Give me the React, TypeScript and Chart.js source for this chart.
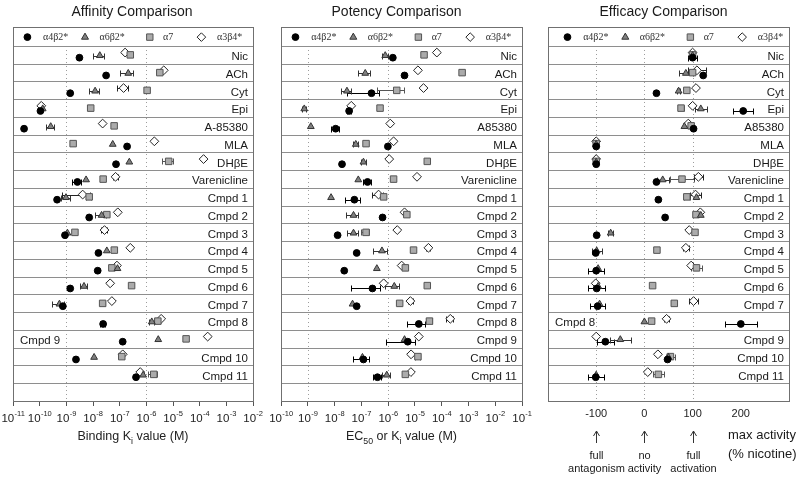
import React, { useEffect, useRef } from 'react';
import { Chart, registerables } from 'chart.js';

Chart.register(...registerables);

const SANS = '"Liberation Sans", Arial, Helvetica, sans-serif';
const SERIF = '"Liberation Serif", "Times New Roman", serif';

// ---------------- data ----------------
const seriesNames = ['α4β2*', 'α6β2*', 'α7', 'α3β4*'];

const affinityCategories = ['Nic', 'ACh', 'Cyt', 'Epi', 'A-85380', 'MLA', 'DHβE', 'Varenicline',
  'Cmpd 1', 'Cmpd 2', 'Cmpd 3', 'Cmpd 4', 'Cmpd 5', 'Cmpd 6', 'Cmpd 7', 'Cmpd 8', 'Cmpd 9', 'Cmpd 10', 'Cmpd 11'];
const potencyCategories = ['Nic', 'ACh', 'Cyt', 'Epi', 'A85380', 'MLA', 'DHβE', 'Varenicline',
  'Cmpd 1', 'Cmpd 2', 'Cmpd 3', 'Cmpd 4', 'Cmpd 5', 'Cmpd 6', 'Cmpd 7', 'Cmpd 8', 'Cmpd 9', 'Cmpd 10', 'Cmpd 11'];
const efficacyCategories = potencyCategories;

// Binding Ki (M) and SEM (M)
const affA4b2 = [3.1e-9, 3.1e-8, 1.4e-9, 1.07e-10, 2.6e-11, 1.9e-7, 7.3e-8, 2.6e-9, 4.5e-10, 7.2e-9, 8.9e-10, 1.6e-8, 1.5e-8, 1.4e-9, 7.4e-10, 2.4e-8, 1.3e-7, 2.3e-9, 4.1e-7];
const affA4b2Sem = [0, 0, 0, 0, 0, 0, 0, 1e-9, 0, 0, 0, 0, 0, 0, 0, 5e-9, 0, 0, 0];
const affA6b2 = [1.8e-8, 2.1e-7, 1.2e-8, 1.3e-10, 2.6e-10, 5.5e-8, 2.3e-7, 5.5e-9, 9.7e-10, 2.1e-8, 1.1e-9, 3.3e-8, 8.3e-8, 4.6e-9, 5.5e-10, 1.6e-6, 2.8e-6, 1.1e-8, 7.6e-7];
const affA6b2Sem = [8e-9, 1.1e-7, 5e-9, 0, 9e-11, 0, 0, 0, 3.5e-10, 9e-9, 0, 0, 0, 1.4e-9, 2.5e-10, 3e-7, 0, 0, 0];
const affA7 = [2.5e-7, 3.2e-6, 1.07e-6, 8.2e-9, 6.2e-8, 1.8e-9, 6.9e-6, 2.4e-8, 7.2e-9, 3.3e-8, 2.1e-9, 6.3e-8, 5.1e-8, 2.8e-7, 2.3e-8, 2.7e-6, 3.1e-5, 1.2e-7, 1.9e-6];
const affA7Sem = [0, 0, 0, 0, 0, 0, 3e-6, 0, 1.5e-9, 0, 0, 0, 0, 0, 5e-9, 0, 0, 0, 7e-7];
const affA3b4 = [1.6e-7, 4.5e-6, 1.4e-7, 1.15e-10, 2.3e-8, 2e-6, 1.4e-4, 7e-8, 4.1e-9, 8.5e-8, 2.7e-8, 2.5e-7, 7.9e-8, 4.4e-8, 5.1e-8, 3.6e-6, 2e-4, 1.3e-7, 5.9e-7];
const affA3b4Sem = [0, 0, 6e-8, 0, 0, 0, 0, 1.5e-8, 3.4e-9, 0, 7e-9, 0, 0, 0, 0, 0, 0, 0, 0];

// EC50 or Ki (M) and SEM (M)
const potA4b2 = [1.5e-6, 4.1e-6, 2.4e-7, 3.5e-8, 1.1e-8, 9.8e-7, 1.9e-8, 1.7e-7, 5.5e-8, 6.2e-7, 1.3e-8, 6.7e-8, 2.3e-8, 2.6e-7, 6.7e-8, 1.4e-5, 5.4e-6, 1.2e-7, 4e-7];
const potA4b2Sem = [0, 0, 2.1e-7, 7e-9, 3.5e-9, 0, 0, 5e-8, 3.1e-8, 0, 0, 0, 0, 2.2e-7, 0, 9e-6, 4.6e-6, 7.3e-8, 1.3e-7];
const potA6b2 = [7.8e-7, 1.4e-7, 2.9e-8, 7.4e-10, 1.3e-9, 6.2e-8, 1.2e-7, 7.7e-8, 7.4e-9, 5.1e-8, 5.1e-8, 5.9e-7, 3.8e-7, 1.7e-6, 4.7e-8, null, 4.1e-6, 1.1e-7, 8.9e-7];
const potA6b2Sem = [2e-7, 6.5e-8, 1.2e-8, 1.5e-10, 0, 1.2e-8, 2.5e-8, 0, 0, 2.4e-8, 2.2e-8, 3.2e-7, 0, 9.4e-7, 0, 0, 0, 0, 3e-7];
const potA7 = [2.2e-5, 5.8e-4, 2.1e-6, 5e-7, null, 1.5e-7, 2.9e-5, 1.6e-6, 6.8e-7, 5e-6, 1.5e-7, 8.9e-6, 4.4e-6, 2.9e-5, 2.7e-6, 3.5e-5, null, 1.3e-5, 4.4e-6];
const potA7Sem = [0, 0, 1.7e-6, 0, 0, 0, 0, 0, 0, 0, 5e-8, 0, 0, 0, 0, 8e-6, 0, 3e-6, 0];
const potA3b4 = [6.6e-5, 1.3e-5, 2.1e-5, 4.2e-8, 1.2e-6, 1.6e-6, 1.1e-6, 1.2e-5, 4.4e-7, 4.1e-6, 2.2e-6, 3.2e-5, 3.2e-6, 6.8e-7, 6.8e-6, 2.1e-4, 1.4e-5, 7.2e-6, 7.1e-6];
const potA3b4Sem = [0, 0, 0, 0, 0, 0, 0, 0, 1.9e-7, 0, 0, 6e-6, 0, 1e-7, 1.5e-6, 6e-5, 0, 0, 0];

// max activity (% nicotine) and SEM
const effA4b2 = [100, 122, 25, 205, 102, -100, -100, 25, 29, 43, -99, -101, -100, -99, -97, 200, -81, 48, -101];
const effA4b2Err = [10, 0, 0, 21, 0, 0, 0, 0, 0, 0, 0, 0, 17, 18, 16, 33, 17, 0, 17];
const effA6b2 = [100, 86, 71, 117, 83, -100, -100, 38, 108, 117, -70, -99, -96, -96, -93, 0, -50, 50, -100];
const effA6b2Err = [0, 14, 3, 13, 0, 0, 0, 12, 0, 0, 5, 10, 0, 0, 0, 0, 22, 0, 0];
const effA7 = [100, 100, 88, 76, 97, -100, -100, 78, 88, 107, 105, 26, 108, 17, 62, 15, null, 54, 29];
const effA7Err = [0, 0, 0, 6, 0, 0, 0, 24, 6, 0, 0, 0, 12, 0, 6, 5, 0, 10, 12];
const effA3b4 = [100, 109, 107, 100, 91, -100, -100, 112, 106, 116, 93, 86, 97, -101, 102, 46, -100, 28, 7];
const effA3b4Err = [0, 19, 0, 0, 0, 0, 0, 10, 11, 0, 0, 6, 0, 0, 10, 5, 0, 0, 0];

const affinityExponents = [-11, -10, -9, -8, -7, -6, -5, -4, -3, -2];
const potencyExponents = [-10, -9, -8, -7, -6, -5, -4, -3, -2, -1];
const efficacyTicks = [-100, 0, 100, 200];

// ---------------- styles ----------------
const seriesStyles = [
  { pointStyle: 'circle', radius: 3.4, fill: '#000000', stroke: '#000000', err: '#000000' },
  { pointStyle: 'triangle', radius: 3.9, fill: '#808080', stroke: '#333333', err: '#333333' },
  { pointStyle: 'rect', radius: 4.6, fill: '#ababab', stroke: '#555555', err: '#555555' },
  { pointStyle: 'rectRot', radius: 4.4, fill: '#ffffff', stroke: '#222222', err: '#222222' },
];
const rowOffsets = [0.16, 0.04, 0, -0.13];
const legendMarkerFrac = [0.06, 0.30, 0.57, 0.785];
const legendTextFrac = [0.125, 0.36, 0.625, 0.85];

type PanelDef = {
  left: number; width: number; padLeft: number; padRight: number;
  title: string; titleShift: number; legendShift: number;
  categories: string[]; leftLabelIndex: number;
  values: (number | null)[][]; errors: number[][];
  xScale: any; guides: number[];
  axisTitle: [string, boolean][] | null;
  annotate: boolean;
};

function drawMarker(ctx: CanvasRenderingContext2D, i: number, x: number, y: number) {
  const s = seriesStyles[i];
  ctx.save();
  ctx.lineWidth = 1;
  ctx.fillStyle = s.fill;
  ctx.strokeStyle = s.stroke;
  ctx.beginPath();
  if (i === 0) {
    ctx.arc(x, y, 3.4, 0, Math.PI * 2);
  } else if (i === 1) {
    ctx.moveTo(x, y - 4);
    ctx.lineTo(x + 3.5, y + 2.1);
    ctx.lineTo(x - 3.5, y + 2.1);
    ctx.closePath();
  } else if (i === 2) {
    ctx.rect(x - 3.2, y - 3.2, 6.4, 6.4);
  } else {
    ctx.moveTo(x, y - 4.3);
    ctx.lineTo(x + 4.3, y);
    ctx.lineTo(x, y + 4.3);
    ctx.lineTo(x - 4.3, y);
    ctx.closePath();
  }
  ctx.fill();
  ctx.stroke();
  ctx.restore();
}

function drawRich(ctx: CanvasRenderingContext2D, parts: [string, boolean][], cx: number, cy: number, size: number) {
  const widths = parts.map(([t, sub]) => {
    ctx.font = `${sub ? size * 0.7 : size}px ${SANS}`;
    return ctx.measureText(t).width;
  });
  const total = widths.reduce((a, b) => a + b, 0);
  let x = cx - total / 2;
  ctx.textAlign = 'left';
  ctx.textBaseline = 'middle';
  parts.forEach(([t, sub], i) => {
    ctx.font = `${sub ? size * 0.7 : size}px ${SANS}`;
    ctx.fillText(t, x, cy + (sub ? size * 0.38 : 0));
    x += widths[i];
  });
}

function makePlugin(def: PanelDef) {
  return {
    id: 'panelDecor',
    beforeDatasetsDraw(chart: any) {
      const { ctx, chartArea: a } = chart;
      const x = chart.scales.x;
      const y = chart.scales.y;
      ctx.save();
      // dotted guides
      ctx.lineWidth = 1;
      ctx.strokeStyle = '#9c9c9c';
      ctx.setLineDash([1, 3]);
      const top = y.getPixelForValue(1);
      def.guides.forEach((v) => {
        const px = Math.round(x.getPixelForValue(v)) + 0.5;
        ctx.beginPath();
        ctx.moveTo(px, top);
        ctx.lineTo(px, a.bottom);
        ctx.stroke();
      });
      ctx.setLineDash([]);
      // row lines
      ctx.strokeStyle = '#8e8e8e';
      for (let r = 1; r <= def.categories.length + 1; r++) {
        const py = Math.round(y.getPixelForValue(r)) + 0.5;
        ctx.beginPath();
        ctx.moveTo(a.left, py);
        ctx.lineTo(a.right, py);
        ctx.stroke();
      }
      // border
      ctx.strokeStyle = '#707070';
      ctx.strokeRect(Math.round(a.left) + 0.5, Math.round(a.top) + 0.5, Math.round(a.right - a.left), Math.round(a.bottom - a.top));
      // category labels
      ctx.fillStyle = '#1a1a1a';
      ctx.font = `11.5px ${SANS}`;
      ctx.textBaseline = 'middle';
      def.categories.forEach((c, k) => {
        const py = y.getPixelForValue(k + 1.5) + 2;
        if (k === def.leftLabelIndex) {
          ctx.textAlign = 'left';
          ctx.fillText(c, a.left + 7, py);
        } else {
          ctx.textAlign = 'right';
          ctx.fillText(c, a.right - 5, py);
        }
      });
      // legend
      const ly = y.getPixelForValue(0.5);
      const w = a.right - a.left;
      seriesNames.forEach((name, i) => {
        drawMarker(ctx, i, a.left + w * legendMarkerFrac[i] + def.legendShift, ly);
        ctx.fillStyle = '#333';
        ctx.font = `10px ${SERIF}`;
        ctx.textAlign = 'left';
        ctx.textBaseline = 'middle';
        ctx.fillText(name, a.left + w * legendTextFrac[i] + def.legendShift, ly);
      });
      // error bars
      chart.data.datasets.forEach((ds: any, i: number) => {
        ctx.strokeStyle = seriesStyles[i].err;
        ctx.lineWidth = 1;
        ds.data.forEach((pt: any) => {
          if (!pt.err) return;
          const lo = pt.x - pt.err > 0 || def.xScale.type !== 'logarithmic' ? pt.x - pt.err : x.min;
          const hi = pt.x + pt.err;
          const py = Math.round(y.getPixelForValue(pt.y)) + 0.5;
          const x1 = Math.round(x.getPixelForValue(lo)) + 0.5;
          const x2 = Math.round(x.getPixelForValue(hi)) + 0.5;
          ctx.beginPath();
          ctx.moveTo(x1, py);
          ctx.lineTo(x2, py);
          ctx.moveTo(x1, py - 3);
          ctx.lineTo(x1, py + 3);
          ctx.moveTo(x2, py - 3);
          ctx.lineTo(x2, py + 3);
          ctx.stroke();
        });
      });
      ctx.restore();
    },
    afterDraw(chart: any) {
      const { ctx, chartArea: a } = chart;
      const x = chart.scales.x;
      ctx.save();
      ctx.fillStyle = '#1a1a1a';
      ctx.font = `14px ${SANS}`;
      ctx.textAlign = 'center';
      ctx.textBaseline = 'middle';
      ctx.fillText(def.title, (a.left + a.right) / 2 + def.titleShift, 12);
      // power-of-ten tick labels with real superscripts, placed at the scale's ticks
      if (def.xScale.type === 'logarithmic') {
        ctx.fillStyle = '#222';
        ctx.textBaseline = 'alphabetic';
        ctx.textAlign = 'left';
        x.ticks.forEach((t: any) => {
          const px = x.getPixelForValue(t.value);
          const exp = String(Math.round(Math.log10(t.value)));
          ctx.font = `11.5px ${SANS}`;
          const wb = ctx.measureText('10').width;
          ctx.font = `7.5px ${SANS}`;
          const we = ctx.measureText(exp).width;
          const x0 = px - (wb + we) / 2;
          ctx.font = `11.5px ${SANS}`;
          ctx.fillText('10', x0, a.bottom + 20.5);
          ctx.font = `7.5px ${SANS}`;
          ctx.fillText(exp, x0 + wb + 0.3, a.bottom + 14.5);
        });
      }
      if (def.axisTitle) {
        drawRich(ctx, def.axisTitle, (a.left + a.right) / 2, 437, 12.5);
      }
      if (def.annotate) {
        ctx.fillStyle = '#1a1a1a';
        ctx.strokeStyle = '#333';
        ctx.lineWidth = 1;
        const notes: [number, string, string][] = [[-100, 'full', 'antagonism'], [0, 'no', 'activity'], [100, 'full', 'activation']];
        notes.forEach(([v, l1, l2]) => {
          const px = Math.round(x.getPixelForValue(v)) + 0.5;
          ctx.beginPath();
          ctx.moveTo(px, 443);
          ctx.lineTo(px, 431);
          ctx.moveTo(px - 3, 436);
          ctx.lineTo(px, 431);
          ctx.lineTo(px + 3, 436);
          ctx.stroke();
          ctx.font = `11px ${SANS}`;
          ctx.textAlign = 'center';
          ctx.textBaseline = 'middle';
          ctx.fillText(l1, px, 456);
          ctx.fillText(l2, px, 469);
        });
        ctx.font = `13px ${SANS}`;
        ctx.textAlign = 'left';
        ctx.textBaseline = 'middle';
        ctx.fillText('max activity', a.right - 61, 435);
        ctx.fillText('(% nicotine)', a.right - 61, 454);
      }
      ctx.restore();
    },
  };
}

function buildConfig(def: PanelDef): any {
  const datasets = seriesNames.map((name, i) => ({
    label: name,
    data: def.values[i]
      .map((v, k) => (v == null ? null : { x: v, y: k + 1.5 + rowOffsets[i], err: def.errors[i][k] }))
      .filter((p) => p !== null),
    pointStyle: seriesStyles[i].pointStyle,
    pointRadius: seriesStyles[i].radius,
    backgroundColor: seriesStyles[i].fill,
    borderColor: seriesStyles[i].stroke,
    borderWidth: 1,
    showLine: false,
  }));
  return {
    type: 'scatter',
    data: { datasets },
    plugins: [makePlugin(def)],
    options: {
      animation: false,
      responsive: true,
      maintainAspectRatio: false,
      events: [],
      layout: { padding: { top: 27, left: def.padLeft, right: def.padRight, bottom: 0 } },
      plugins: { legend: { display: false }, tooltip: { enabled: false }, title: { display: false } },
      scales: {
        x: def.xScale,
        y: { type: 'linear', min: -0.07, max: 21, reverse: true, display: false },
      },
    },
  };
}

const logAxis = (min: number, max: number, exps: number[]) => ({
  type: 'logarithmic',
  min,
  max,
  afterBuildTicks: (s: any) => { s.ticks = exps.map((e) => ({ value: Math.pow(10, e) })); },
  ticks: { display: false, autoSkip: false, maxRotation: 0 },
  grid: { drawOnChartArea: false, drawTicks: true, tickLength: 5, color: '#555' },
  border: { display: false },
  afterFit: (s: any) => { s.height = 78; },
});

const panels: PanelDef[] = [
  {
    left: 0, width: 267, padLeft: 13, padRight: 14,
    title: 'Affinity Comparison', titleShift: -1, legendShift: 0,
    categories: affinityCategories, leftLabelIndex: 16,
    values: [affA4b2, affA6b2, affA7, affA3b4],
    errors: [affA4b2Sem, affA6b2Sem, affA7Sem, affA3b4Sem],
    xScale: logAxis(1e-11, 1e-2, affinityExponents),
    guides: [1e-9, 1e-6],
    axisTitle: [['Binding K', false], ['i', true], [' value (M)', false]],
    annotate: false,
  },
  {
    left: 267, width: 268, padLeft: 14, padRight: 13,
    title: 'Potency Comparison', titleShift: -5, legendShift: 0,
    categories: potencyCategories, leftLabelIndex: -1,
    values: [potA4b2, potA6b2, potA7, potA3b4],
    errors: [potA4b2Sem, potA6b2Sem, potA7Sem, potA3b4Sem],
    xScale: logAxis(1e-10, 1e-1, potencyExponents),
    guides: [1e-9, 1e-6],
    axisTitle: [['EC', false], ['50', true], [' or K', false], ['i', true], [' value (M)', false]],
    annotate: false,
  },
  {
    left: 535, width: 265, padLeft: 13, padRight: 11,
    title: 'Efficacy Comparison', titleShift: -5, legendShift: 5,
    categories: efficacyCategories, leftLabelIndex: 15,
    values: [effA4b2, effA6b2, effA7, effA3b4],
    errors: [effA4b2Err, effA6b2Err, effA7Err, effA3b4Err],
    xScale: {
      type: 'linear',
      min: -200,
      max: 300,
      afterBuildTicks: (s: any) => { s.ticks = efficacyTicks.map((v) => ({ value: v })); },
      ticks: { font: { family: SANS, size: 11 }, color: '#222', padding: 6, maxRotation: 0, autoSkip: false },
      grid: { drawOnChartArea: false, drawTicks: false, display: false },
      border: { display: false },
      afterFit: (s: any) => { s.height = 78; },
    },
    guides: [-100, 0, 100],
    axisTitle: null,
    annotate: true,
  },
];

function Panel({ def }: { def: PanelDef }) {
  const ref = useRef<HTMLCanvasElement>(null);
  useEffect(() => {
    if (!ref.current) return;
    const chart = new Chart(ref.current, buildConfig(def));
    return () => chart.destroy();
  }, [def]);
  return (
    <div style={{ position: 'absolute', left: def.left, top: 0, width: def.width, height: 479 }}>
      <canvas ref={ref} />
    </div>
  );
}

export default function App() {
  return (
    <div style={{ position: 'absolute', left: 0, top: 0, width: 800, height: 479, background: '#fff', overflow: 'hidden' }}>
      {panels.map((p) => (
        <Panel key={p.title} def={p} />
      ))}
    </div>
  );
}
